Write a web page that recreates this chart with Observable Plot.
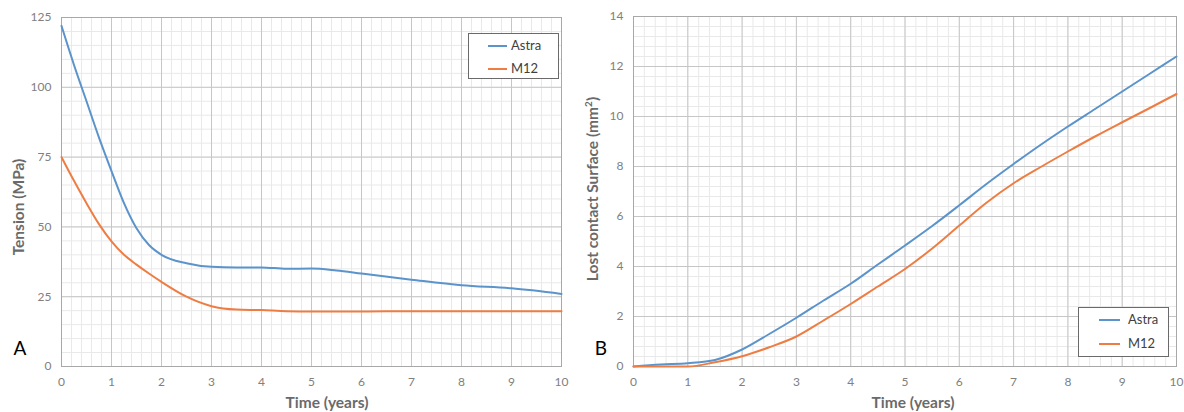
<!DOCTYPE html>
<html>
<head>
<meta charset="utf-8">
<script src="https://cdn.jsdelivr.net/npm/d3@7"></script>
<script src="https://cdn.jsdelivr.net/npm/@observablehq/plot@0.6"></script>
<style>
  html, body { margin: 0; padding: 0; background: #fff; }
  #wrap { position: relative; width: 1184px; height: 412px; overflow: hidden; font-family: Lato, "Open Sans", sans-serif; }
  .plot { position: absolute; top: 0; }
  .title { position: absolute; font-weight: bold; font-size: 15.5px; color: #6a6a6a; white-space: nowrap; line-height: 1; }
  .ytitle { transform: translate(-50%, -50%) rotate(-90deg); }
  .xtitle { transform: translate(-50%, -50%); }
  .letter { position: absolute; font-size: 19px; color: #000; line-height: 1; transform: translate(-50%, -50%); }
  .legend { position: absolute; border: 1px solid #6a6a6a; background: #fff; box-sizing: border-box; }
  .legend .item { position: absolute; font-size: 13px; color: #404040; line-height: 1; white-space: nowrap; }
  .legend .sw { position: absolute; height: 2px; }
</style>
</head>
<body>
<div id="wrap"></div>
<script>
// ---- Data ----
const seriesNames = ["Astra", "M12"];
const seriesColors = ["#5b93cb", "#ee7d43"];

const xTicks = [0, 1, 2, 3, 4, 5, 6, 7, 8, 9, 10];
const yTicksTension = [0, 25, 50, 75, 100, 125];
const yTicksSurface = [0, 2, 4, 6, 8, 10, 12, 14];

const timeTension = [0, 0.25, 0.5, 0.75, 1, 1.25, 1.5, 1.75, 2, 2.5, 3, 3.5, 4, 4.5, 5, 5.5, 6, 7, 8, 9, 10];
const tensionAstra = [122, 108, 95, 82, 70, 58.5, 49.5, 43.5, 40, 37, 35.7, 35.5, 35.5, 35, 35.1, 34.4, 33.3, 31.1, 29.1, 28, 26];
const tensionM12 = [75, 66.5, 58.5, 51, 44.8, 40, 36.5, 33.3, 30.3, 25, 21.6, 20.4, 20.2, 19.8, 19.7, 19.7, 19.7, 19.8, 19.8, 19.8, 19.8];

const timeSurface = [0, 0.5, 1, 1.5, 2, 2.5, 3, 3.5, 4, 4.5, 5, 5.5, 6, 6.5, 7, 7.5, 8, 8.5, 9, 9.5, 10];
const surfaceAstra = [0, 0.08, 0.13, 0.26, 0.68, 1.3, 1.95, 2.64, 3.31, 4.08, 4.84, 5.62, 6.45, 7.3, 8.1, 8.87, 9.6, 10.3, 11.0, 11.7, 12.4];
const surfaceM12 = [0, 0, 0, 0.17, 0.41, 0.77, 1.2, 1.84, 2.5, 3.2, 3.9, 4.72, 5.64, 6.55, 7.33, 7.98, 8.6, 9.2, 9.77, 10.33, 10.9];

// ---- Build tables ----
function table(times, a, b) {
  return [
    ...times.map((t, i) => ({t, v: a[i], s: seriesNames[0]})),
    ...times.map((t, i) => ({t, v: b[i], s: seriesNames[1]}))
  ];
}
const dataTension = table(timeTension, tensionAstra, tensionM12);
const dataSurface = table(timeSurface, surfaceAstra, surfaceM12);

function chart({width, marginLeft, marginRight, marginTop, yDomain, yTicks, yMinor, data}) {
  const xMinor = d3.range(0, 10.0001, 0.2);
  return Plot.plot({
    width, height: 412,
    marginLeft, marginRight, marginTop, marginBottom: 46,
    style: {fontFamily: "Lato, sans-serif", fontSize: "12px", color: "#808080", background: "#fff", overflow: "visible"},
    x: {domain: [0, 10], ticks: xTicks, tickSize: 0, tickPadding: 11, label: null},
    y: {domain: yDomain, ticks: yTicks, tickSize: 0, tickPadding: 10, label: null},
    color: {domain: seriesNames, range: seriesColors},
    marks: [
      Plot.ruleX(xMinor, {stroke: "#e9e9e9", strokeWidth: 1}),
      Plot.ruleY(yMinor, {stroke: "#e9e9e9", strokeWidth: 1}),
      Plot.ruleX(xTicks, {stroke: "#c6c6c6", strokeWidth: 1}),
      Plot.ruleY(yTicks, {stroke: "#c6c6c6", strokeWidth: 1}),
      Plot.frame({stroke: "#a8a8a8", strokeWidth: 1}),
      Plot.line(data, {x: "t", y: "v", stroke: "s", z: "s", strokeWidth: 2, curve: "monotone-x"})
    ]
  });
}

const wrap = document.getElementById("wrap");

const left = chart({
  width: 590, marginLeft: 61, marginRight: 29, marginTop: 17,
  yDomain: [0, 125], yTicks: yTicksTension, yMinor: d3.range(0, 125.001, 5), data: dataTension
});
left.classList.add("plot");
left.style.left = "0px";
wrap.appendChild(left);

const right = chart({
  width: 594, marginLeft: 43, marginRight: 8, marginTop: 16,
  yDomain: [0, 14], yTicks: yTicksSurface, yMinor: d3.range(0, 14.001, 0.4), data: dataSurface
});
right.classList.add("plot");
right.style.left = "590px";
wrap.appendChild(right);

// ---- Titles, panel letters, legends ----
function addDiv(cls, text, css) {
  const d = document.createElement("div");
  d.className = cls;
  if (text != null) d.innerHTML = text;
  Object.assign(d.style, css);
  wrap.appendChild(d);
  return d;
}
addDiv("title xtitle", "Time (years)", {left: "327px", top: "403px"});
addDiv("title xtitle", "Time (years)", {left: "913px", top: "403px"});
addDiv("title ytitle", "Tension (MPa)", {left: "19px", top: "207px"});
addDiv("title ytitle", "Lost contact Surface (mm<sup style='font-size:10px;line-height:0'>2</sup>)", {left: "593px", top: "189px"});
addDiv("letter", "A", {left: "20px", top: "347px"});
addDiv("letter", "B", {left: "601px", top: "347px"});

function legend(x, y, w, h, swX, swW, txtX, rowYs) {
  const box = addDiv("legend", null, {left: x + "px", top: y + "px", width: w + "px", height: h + "px"});
  seriesNames.forEach((name, i) => {
    const sw = document.createElement("div");
    sw.className = "sw";
    Object.assign(sw.style, {left: (swX - x) + "px", width: swW + "px", top: (rowYs[i] - y - 1) + "px", background: seriesColors[i]});
    box.appendChild(sw);
    const t = document.createElement("div");
    t.className = "item";
    t.textContent = name;
    Object.assign(t.style, {left: (txtX - x) + "px", top: (rowYs[i] - y - 7) + "px"});
    box.appendChild(t);
  });
}
legend(468, 33, 91, 46, 487, 19, 510, [45, 68]);
legend(1078, 307, 91, 50, 1098, 21, 1127, [319, 343]);
</script>
</body>
</html>
